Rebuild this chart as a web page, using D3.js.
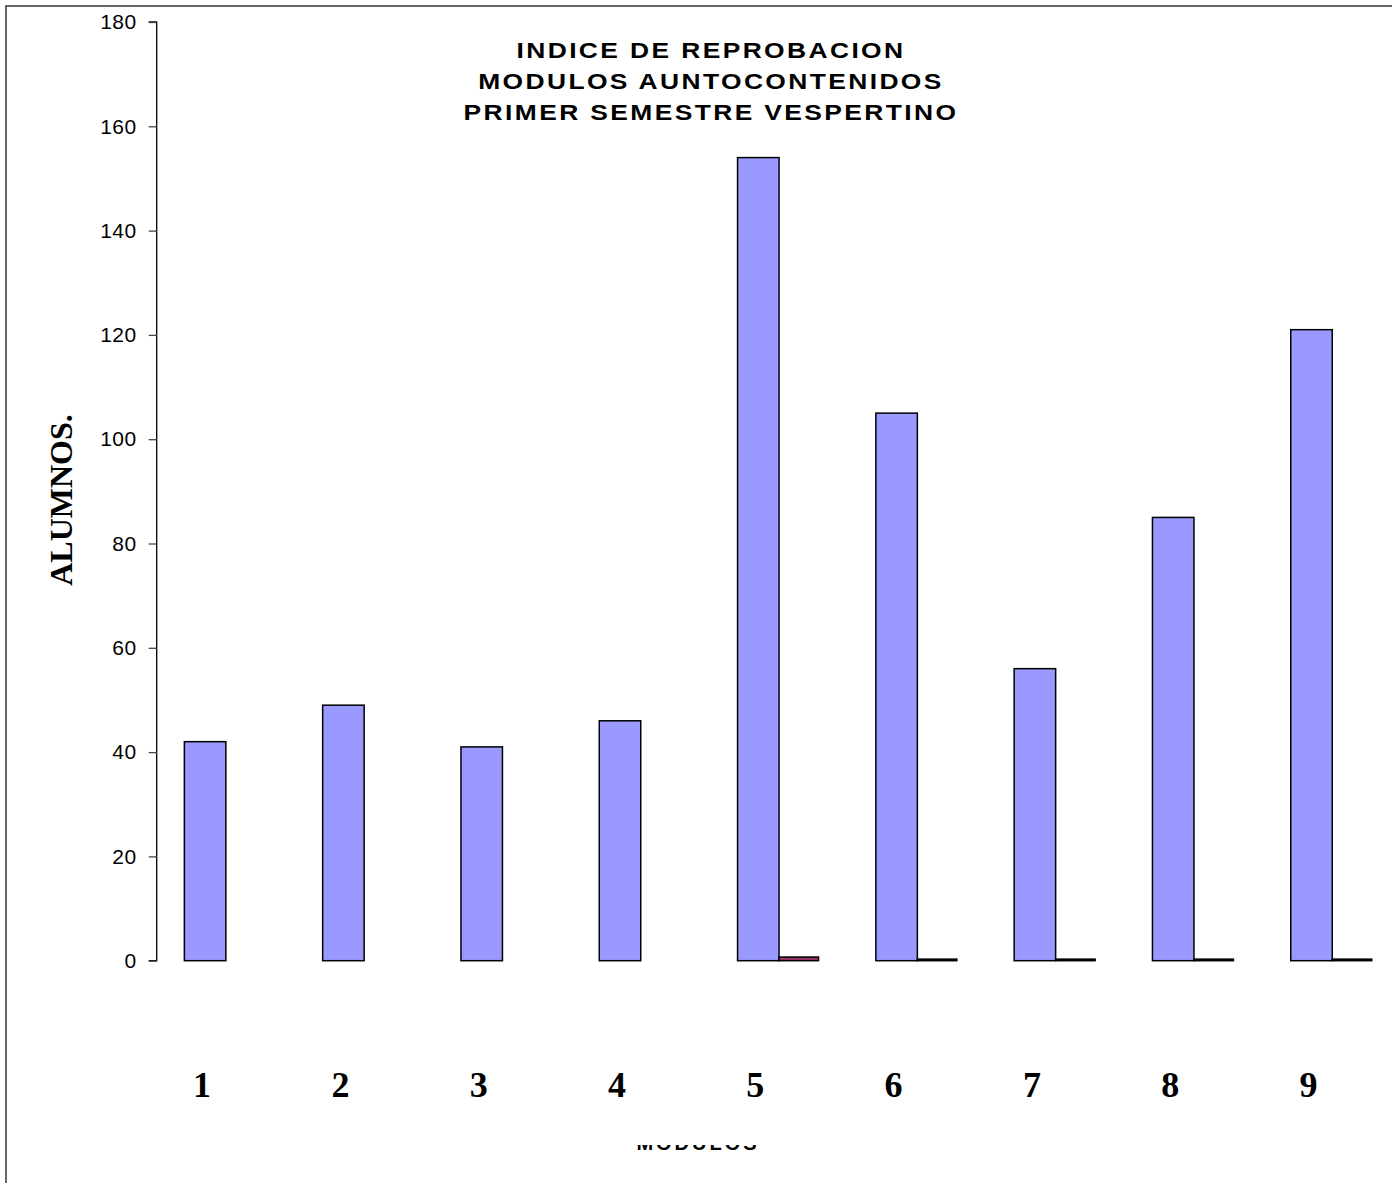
<!DOCTYPE html>
<html>
<head>
<meta charset="utf-8">
<script src="https://cdn.jsdelivr.net/npm/d3@7"></script>
<style>
  html, body { margin: 0; padding: 0; background: #fff; }
  svg { display: block; }
</style>
</head>
<body>
<svg id="chart" width="1392" height="1183"></svg>
<script>
// ---- data ----
const categories = ["1", "2", "3", "4", "5", "6", "7", "8", "9"];
const seriesNames = ["Reprobados", "Otros"];
const reprobados = [42, 49, 41, 46, 154, 105, 56, 85, 121];
const otros = [0, 0, 0, 0, 0.7, 0.3, 0.3, 0.3, 0.3];
const yTicks = [0, 20, 40, 60, 80, 100, 120, 140, 160, 180];
const titleLines = ["INDICE DE REPROBACION", "MODULOS AUNTOCONTENIDOS", "PRIMER SEMESTRE VESPERTINO"];
const yTitle = "ALUMNOS.";
const xTitle = "MODULOS";

(function () {
// ---- layout ----
const svg = d3.select("#chart");
const plotLeft = 156.7, plotTop = 22, plotBottom = 960.7, plotRight = 1401.4;

// frame
svg.append("rect")
  .attr("x", 6).attr("y", 6).attr("width", 1500).attr("height", 1500)
  .attr("fill", "#fff").attr("stroke", "#333").attr("stroke-width", 1.5);

const y = d3.scaleLinear().domain([0, 180]).range([plotBottom, plotTop]);
const x0 = d3.scaleBand().domain(categories).range([plotLeft, plotRight]).paddingInner(0.4).paddingOuter(0.2);
const x1 = d3.scaleBand().domain(seriesNames).range([0, x0.bandwidth()]);

const rows = categories.map((c, i) => ({ c, vals: [reprobados[i], otros[i]] }));

// bars
const g = svg.append("g");
rows.forEach(r => {
  r.vals.forEach((v, j) => {
    if (v <= 0) return;
    const isMaroon = j === 1 && v >= 0.5;
    g.append("rect")
      .attr("x", x0(r.c) + x1(seriesNames[j]))
      .attr("y", y(v))
      .attr("width", x1.bandwidth() - (j === 1 ? 2 : 0))
      .attr("height", y(0) - y(v))
      .attr("fill", j === 0 ? "#9999FF" : (isMaroon ? "#993366" : "#000"))
      .attr("stroke", "#000")
      .attr("stroke-width", 1.5);
  });
});

// y axis
const yAxis = d3.axisLeft(y).tickValues(yTicks).tickSize(8).tickPadding(12).tickFormat(d3.format("d"));
const ya = svg.append("g").attr("transform", `translate(${plotLeft},0)`).call(yAxis);
ya.select(".domain").attr("stroke", "#000").attr("stroke-width", 1.3).attr("d", `M-8,${y(180)}H0V${y(0)}H-8`);
ya.selectAll(".tick line").attr("stroke", "#444").attr("stroke-width", 1.3);
ya.selectAll(".tick text")
  .attr("font-family", "Liberation Sans, Arial, sans-serif")
  .attr("font-size", 21)
  .attr("letter-spacing", 0.5)
  .attr("fill", "#000");

// x category labels
svg.append("g").selectAll("text").data(categories).join("text")
  .attr("x", d => x0(d) + x1(seriesNames[0]) + x1.bandwidth() / 2 - 3)
  .attr("y", 1097)
  .attr("text-anchor", "middle")
  .attr("font-family", "Liberation Serif, Times New Roman, serif")
  .attr("font-weight", "bold")
  .attr("font-size", 36)
  .text(d => d);

// title (glyphs slightly widened, as in the original rendering)
svg.append("g").attr("transform", "translate(711,0) scale(1.2,1)")
  .selectAll("text").data(titleLines).join("text")
  .attr("x", 0)
  .attr("y", (d, i) => 57.7 + i * 31)
  .attr("text-anchor", "middle")
  .attr("font-family", "Liberation Sans, Arial, sans-serif")
  .attr("font-weight", "bold")
  .attr("font-size", 22)
  .attr("letter-spacing", 2)
  .text(d => d);

// y title
svg.append("text")
  .attr("transform", "translate(72,500) rotate(-90)")
  .attr("text-anchor", "middle")
  .attr("font-family", "Liberation Serif, Times New Roman, serif")
  .attr("font-weight", "bold")
  .attr("font-size", 32)
  .text(yTitle);

// x title (partly hidden)
svg.append("clipPath").attr("id", "xclip")
  .append("rect").attr("x", 0).attr("y", 1145).attr("width", 1392).attr("height", 40);
svg.append("text")
  .attr("clip-path", "url(#xclip)")
  .attr("x", 698)
  .attr("y", 1150)
  .attr("text-anchor", "middle")
  .attr("font-family", "Liberation Sans, Arial, sans-serif")
  .attr("font-weight", "bold")
  .attr("font-size", 20)
  .attr("letter-spacing", 3)
  .text(xTitle);
})();
</script>
</body>
</html>
